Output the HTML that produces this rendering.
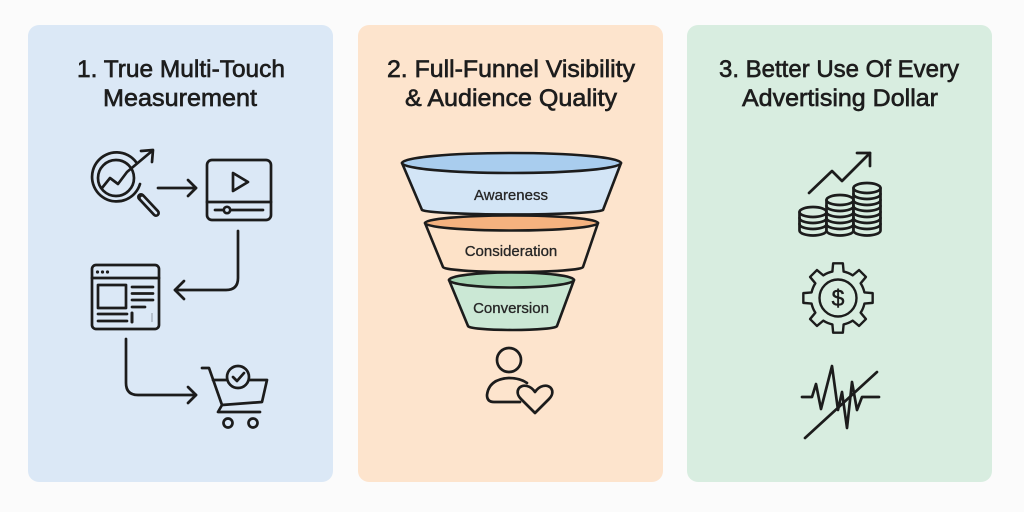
<!DOCTYPE html>
<html>
<head>
<meta charset="utf-8">
<style>
  html,body{margin:0;padding:0;background:#fbfbfb;}
  svg{display:block;}
  .t{font-family:"Liberation Sans",Arial,sans-serif;font-size:24.5px;fill:#1d1d1d;stroke:#1d1d1d;stroke-width:0.65px;text-anchor:middle;}
  .l{font-family:"Liberation Sans",Arial,sans-serif;font-size:15px;fill:#262626;stroke:#262626;stroke-width:0.3px;text-anchor:middle;}
  .ic{fill:none;stroke:#1c1c1c;stroke-width:2.7;stroke-linecap:round;stroke-linejoin:round;}
</style>
</head>
<body>
<svg width="1024" height="512" viewBox="0 0 1024 512" xmlns="http://www.w3.org/2000/svg">
  <rect x="0" y="0" width="1024" height="512" fill="#fbfbfb"/>
  <!-- panels -->
  <rect x="28" y="25" width="305" height="457" rx="11" fill="#dbe8f6"/>
  <rect x="358" y="25" width="305" height="457" rx="11" fill="#fde4cd"/>
  <rect x="687" y="25" width="305" height="457" rx="11" fill="#d8ede0"/>

  <!-- titles -->
  <text class="t" x="181" y="77" textLength="208" lengthAdjust="spacingAndGlyphs">1. True Multi-Touch</text>
  <text class="t" x="180" y="106" textLength="154" lengthAdjust="spacingAndGlyphs">Measurement</text>
  <text class="t" x="511" y="77" textLength="248" lengthAdjust="spacingAndGlyphs">2. Full-Funnel Visibility</text>
  <text class="t" x="511" y="106" textLength="212" lengthAdjust="spacingAndGlyphs">&amp; Audience Quality</text>
  <text class="t" x="839" y="77" textLength="240" lengthAdjust="spacingAndGlyphs">3. Better Use Of Every</text>
  <text class="t" x="840" y="106" textLength="196" lengthAdjust="spacingAndGlyphs">Advertising Dollar</text>

  <!-- ===== Panel 1 icons ===== -->
  <!-- magnifier -->
  <line x1="141" y1="197" x2="156" y2="213" stroke="#1c1c1c" stroke-width="8" stroke-linecap="round"/>
  <line x1="142" y1="198" x2="156" y2="213" stroke="#dbe8f6" stroke-width="2.6" stroke-linecap="round"/>
  <g class="ic">
    <path d="M136,162 A24.5,24.5 0 1 0 140,184"/>
    <circle cx="116" cy="178" r="18"/>
    <polyline points="102,188 110,178 118,184 127,172 152,151"/>
    <polyline points="141,151 153,150 152,162"/>
  </g>
  <!-- arrow 1 -->
  <g class="ic">
    <line x1="158" y1="188" x2="196" y2="188"/>
    <polyline points="188,180 196,188 188,196"/>
  </g>
  <!-- video -->
  <g class="ic">
    <rect x="207" y="160" width="64" height="60" rx="5"/>
    <line x1="207" y1="202" x2="271" y2="202"/>
    <path d="M233,173 L233,191 L248,182 Z"/>
    <line x1="215" y1="210" x2="263" y2="210"/>
    <circle cx="227" cy="210" r="3.2" fill="#dbe8f6"/>
  </g>
  <!-- connector 1 -->
  <g class="ic">
    <path d="M238,231 V278 Q238,290 226,290 H175"/>
    <polyline points="184,281 175,290 184,299"/>
  </g>
  <!-- browser -->
  <g class="ic">
    <rect x="92" y="265" width="67" height="64" rx="4"/>
    <line x1="92" y1="278" x2="159" y2="278"/>
    <rect x="98" y="285" width="28" height="23"/>
    <line x1="132" y1="287" x2="153" y2="287"/>
    <line x1="132" y1="293.5" x2="153" y2="293.5"/>
    <line x1="132" y1="300" x2="153" y2="300"/>
    <line x1="132" y1="307" x2="145" y2="307"/>
    <line x1="98" y1="314" x2="127" y2="314"/>
    <line x1="98" y1="321" x2="127" y2="321"/>
    <line x1="132" y1="313" x2="132" y2="322" stroke-width="3"/>
  </g>
  <line x1="152" y1="313" x2="152" y2="322" stroke="#aab4c0" stroke-width="1.5"/>
  <circle cx="97.5" cy="272" r="1.6" fill="#1c1c1c"/>
  <circle cx="102.5" cy="272" r="1.6" fill="#1c1c1c"/>
  <circle cx="107.5" cy="272" r="1.6" fill="#1c1c1c"/>
  <!-- connector 2 -->
  <g class="ic">
    <path d="M126,339 V383 Q126,395 138,395 H196"/>
    <polyline points="188,387 196,395 188,403"/>
  </g>
  <!-- cart -->
  <g class="ic">
    <polyline points="202,368 209,368 222,405 262,402 267,380 250,380"/>
    <line x1="213" y1="380" x2="226" y2="380"/>
    <polyline points="222,405 218,412 260,412"/>
    <circle cx="228" cy="423" r="4.5"/>
    <circle cx="253" cy="423" r="4.5"/>
    <circle cx="238" cy="377" r="11"/>
    <polyline points="233,377 237,381 244,373"/>
  </g>

  <!-- ===== Panel 2 funnel ===== -->
  <g stroke="#1c1c1c" stroke-width="2.6" stroke-linejoin="round">
    <path d="M402,163 L422,210 A91,5 0 0 0 603,210 L621,163 Z" fill="#d3e5f6"/>
    <ellipse cx="511.5" cy="163" rx="109.5" ry="10" fill="#a9cdee"/>
    <path d="M425,223 L443,267 A70,5 0 0 0 583,267 L598,223 Z" fill="#fde2c8"/>
    <ellipse cx="511.5" cy="223" rx="86.5" ry="7.5" fill="#f5b27f"/>
    <path d="M449,280 L468,326 A44.5,4 0 0 0 557,326 L574,280 Z" fill="#cbe8d5"/>
    <ellipse cx="511.5" cy="280" rx="62.5" ry="7.5" fill="#a3d4b3"/>
  </g>
  <text class="l" x="511" y="200">Awareness</text>
  <text class="l" x="511" y="256">Consideration</text>
  <text class="l" x="511" y="313">Conversion</text>
  <!-- person with heart -->
  <g class="ic">
    <circle cx="509" cy="360" r="12"/>
    <path d="M520,402 H494 Q487,402 487,395 Q489,379 509,378 Q520,378 527,383"/>
    <path d="M535,413 L521,399 C514,392 519,384 527,386 C531,387 533,389 535,392 C537,389 539,387 543,386 C551,384 556,392 549,399 Z" fill="#fde4cd"/>
  </g>

  <!-- ===== Panel 3 icons ===== -->
  <!-- coins -->
  <g class="ic" fill="#d8ede0">
    <!-- stack 1 -->
    <path d="M799.5,212 V230.5 A13.5,5 0 0 0 826.5,230.5 V212" fill="#d8ede0"/>
    <ellipse cx="813" cy="212" rx="13.5" ry="5" fill="#d8ede0"/>
    <path d="M799.5,218 A13.5,5 0 0 0 826.5,218 M799.5,224 A13.5,5 0 0 0 826.5,224" fill="none"/>
    <!-- stack 2 -->
    <path d="M826.5,200 V230.5 A13.5,5 0 0 0 853.5,230.5 V200" fill="#d8ede0"/>
    <ellipse cx="840" cy="200" rx="13.5" ry="5" fill="#d8ede0"/>
    <path d="M826.5,206 A13.5,5 0 0 0 853.5,206 M826.5,212 A13.5,5 0 0 0 853.5,212 M826.5,218 A13.5,5 0 0 0 853.5,218 M826.5,224 A13.5,5 0 0 0 853.5,224" fill="none"/>
    <!-- stack 3 -->
    <path d="M853.5,188 V230.5 A13.5,5 0 0 0 880.5,230.5 V188" fill="#d8ede0"/>
    <ellipse cx="867" cy="188" rx="13.5" ry="5" fill="#d8ede0"/>
    <path d="M853.5,194 A13.5,5 0 0 0 880.5,194 M853.5,200 A13.5,5 0 0 0 880.5,200 M853.5,206 A13.5,5 0 0 0 880.5,206 M853.5,212 A13.5,5 0 0 0 880.5,212 M853.5,218 A13.5,5 0 0 0 880.5,218 M853.5,224 A13.5,5 0 0 0 880.5,224" fill="none"/>
  </g>
  <g class="ic">
    <polyline points="809,193 832,171 842,181 870,153"/>
    <polyline points="857,153 870,153 870,166"/>
  </g>
  <!-- gear -->
  <g class="ic" transform="translate(838,298)">
    <path d="M26.41,-5.61 L34.66,-4.87 L34.66,4.87 L26.41,5.61 A27,27 0 0 1 22.64,14.70 L27.95,21.06 L21.06,27.95 L14.70,22.64 A27,27 0 0 1 5.61,26.41 L4.87,34.66 L-4.87,34.66 L-5.61,26.41 A27,27 0 0 1 -14.70,22.64 L-21.06,27.95 L-27.95,21.06 L-22.64,14.70 A27,27 0 0 1 -26.41,5.61 L-34.66,4.87 L-34.66,-4.87 L-26.41,-5.61 A27,27 0 0 1 -22.64,-14.70 L-27.95,-21.06 L-21.06,-27.95 L-14.70,-22.64 A27,27 0 0 1 -5.61,-26.41 L-4.87,-34.66 L4.87,-34.66 L5.61,-26.41 A27,27 0 0 1 14.70,-22.64 L21.06,-27.95 L27.95,-21.06 L22.64,-14.70 A27,27 0 0 1 26.41,-5.61 Z" stroke-width="2.4"/>
    <circle cx="0" cy="0" r="18.5" stroke-width="2.4"/>
  </g>
  <text x="838" y="306" font-family="Liberation Sans, Arial, sans-serif" font-size="23" fill="#1c1c1c" stroke="#1c1c1c" stroke-width="0.5" text-anchor="middle">$</text>
  <!-- signal with slash -->
  <g class="ic">
    <polyline points="802,397 812,397 816,384 821,409 832,366 838,410 842,392 847,428 852,382 857,410 862,397 879,397"/>
    <line x1="805" y1="438" x2="877" y2="372"/>
  </g>
</svg>
</body>
</html>
